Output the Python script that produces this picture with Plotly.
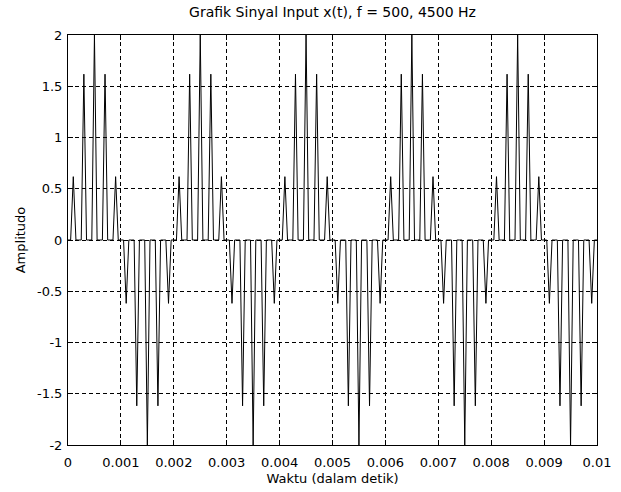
import plotly.graph_objects as go

t_samples = [
    0.0000, 0.0001, 0.0002, 0.0003, 0.0004, 0.0005, 0.0006, 0.0007, 0.0008, 0.0009,
    0.0010, 0.0011, 0.0012, 0.0013, 0.0014, 0.0015, 0.0016, 0.0017, 0.0018, 0.0019,
    0.0020, 0.0021, 0.0022, 0.0023, 0.0024, 0.0025, 0.0026, 0.0027, 0.0028, 0.0029,
    0.0030, 0.0031, 0.0032, 0.0033, 0.0034, 0.0035, 0.0036, 0.0037, 0.0038, 0.0039,
    0.0040, 0.0041, 0.0042, 0.0043, 0.0044, 0.0045, 0.0046, 0.0047, 0.0048, 0.0049,
    0.0050, 0.0051, 0.0052, 0.0053, 0.0054, 0.0055, 0.0056, 0.0057, 0.0058, 0.0059,
    0.0060, 0.0061, 0.0062, 0.0063, 0.0064, 0.0065, 0.0066, 0.0067, 0.0068, 0.0069,
    0.0070, 0.0071, 0.0072, 0.0073, 0.0074, 0.0075, 0.0076, 0.0077, 0.0078, 0.0079,
    0.0080, 0.0081, 0.0082, 0.0083, 0.0084, 0.0085, 0.0086, 0.0087, 0.0088, 0.0089,
    0.0090, 0.0091, 0.0092, 0.0093, 0.0094, 0.0095, 0.0096, 0.0097, 0.0098, 0.0099,
    0.0100,
]
x_values = [
    0.0, 0.618, 0.0, 1.618, 0.0, 2.0, 0.0, 1.618, 0.0, 0.618,
    0.0, -0.618, 0.0, -1.618, 0.0, -2.0, 0.0, -1.618, 0.0, -0.618,
    0.0, 0.618, 0.0, 1.618, 0.0, 2.0, 0.0, 1.618, 0.0, 0.618,
    0.0, -0.618, 0.0, -1.618, 0.0, -2.0, 0.0, -1.618, 0.0, -0.618,
    0.0, 0.618, 0.0, 1.618, 0.0, 2.0, 0.0, 1.618, 0.0, 0.618,
    0.0, -0.618, 0.0, -1.618, 0.0, -2.0, 0.0, -1.618, 0.0, -0.618,
    0.0, 0.618, 0.0, 1.618, 0.0, 2.0, 0.0, 1.618, 0.0, 0.618,
    0.0, -0.618, 0.0, -1.618, 0.0, -2.0, 0.0, -1.618, 0.0, -0.618,
    0.0, 0.618, 0.0, 1.618, 0.0, 2.0, 0.0, 1.618, 0.0, 0.618,
    0.0, -0.618, 0.0, -1.618, 0.0, -2.0, 0.0, -1.618, 0.0, -0.618,
    0.0,
]
x_ticks = [0, 0.001, 0.002, 0.003, 0.004, 0.005, 0.006, 0.007, 0.008, 0.009, 0.01]
x_ticklabels = ["0", "0.001", "0.002", "0.003", "0.004", "0.005", "0.006", "0.007", "0.008", "0.009", "0.01"]
y_ticks = [-2, -1.5, -1, -0.5, 0, 0.5, 1, 1.5, 2]
y_ticklabels = ["-2", "-1.5", "-1", "-0.5", "0", "0.5", "1", "1.5", "2"]

# Drawing style: each sample drawn as a narrow pulse on the fine time grid
PULSE_HALF_WIDTH = 0.00005

line_t, line_x = [], []
for t, v in zip(t_samples, x_values):
    line_t += [t - PULSE_HALF_WIDTH, t, t + PULSE_HALF_WIDTH]
    line_x += [0.0, v, 0.0]

FONT = "DejaVu Sans, Arial, Helvetica, sans-serif"
FS = 13

fig = go.Figure()
fig.add_trace(go.Scatter(
    x=line_t, y=line_x, mode="lines",
    line=dict(color="black", width=1),
    showlegend=False, hoverinfo="skip",
))

axis_common = dict(
    showline=True, linecolor="black", linewidth=1, mirror="ticks",
    ticks="inside", ticklen=5, tickcolor="black", tickwidth=1,
    showgrid=True, gridcolor="black", gridwidth=1, griddash="4px,3px",
    zeroline=False, automargin=False,
    tickfont=dict(family=FONT, size=FS, color="black"),
)

fig.update_layout(
    width=621, height=492,
    margin=dict(l=68, r=24, t=35, b=47),
    paper_bgcolor="white", plot_bgcolor="white",
    font=dict(family=FONT, size=FS, color="black"),
    title=dict(text="Grafik Sinyal Input x(t), f = 500, 4500 Hz",
               x=0.5, xanchor="center", y=1 - 12 / 492, yanchor="middle",
               font=dict(family=FONT, size=14, color="black"),
               xref="paper"),
    xaxis=dict(range=[0, 0.01], tickvals=x_ticks, ticktext=x_ticklabels,
               ticklabelstandoff=5,
               title=dict(text="Waktu (dalam detik)", standoff=5,
                          font=dict(family=FONT, size=FS, color="black")),
               **axis_common),
    yaxis=dict(range=[-2, 2], tickvals=y_ticks, ticktext=y_ticklabels,
               ticklabelstandoff=2,
               title=dict(text="Amplitudo", standoff=8,
                          font=dict(family=FONT, size=FS, color="black")),
               **axis_common),
)

fig.write_html("out.html", config={"displayModeBar": False},
               post_script="document.body.style.margin='0';")
